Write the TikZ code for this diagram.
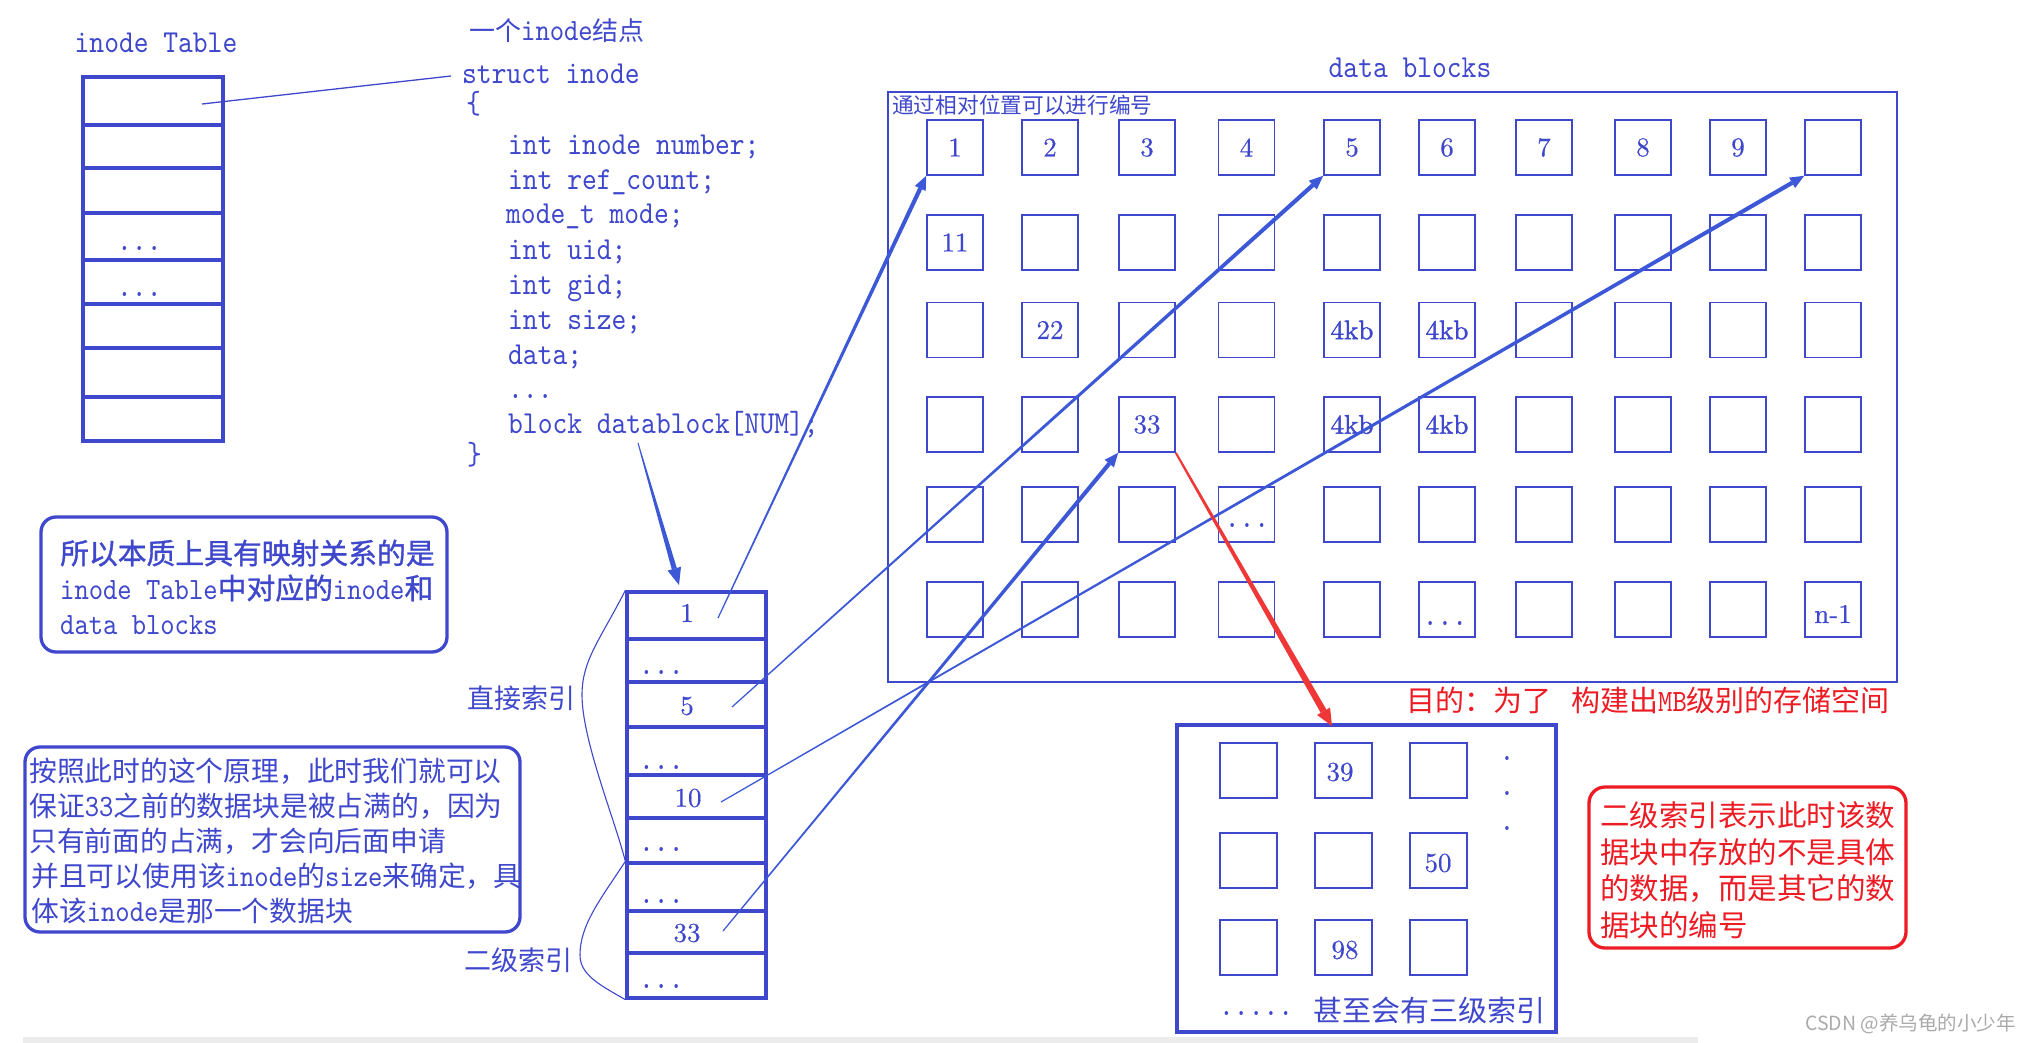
\documentclass[tikz,border=0pt]{standalone}
\usepackage{fontspec}
\usetikzlibrary{calc}
\newfontfamily\cjk{Noto Sans CJK SC}
\newfontfamily\cjkbold{Noto Sans CJK SC}[FakeBold=1.2]
\newfontfamily\codefont{lmmono10-regular.otf}[FakeStretch=0.88]
\newfontfamily\numfont{lmroman10-regular.otf}[FakeBold=0.5]
\newfontfamily\numbold{lmroman10-regular.otf}[FakeBold=1.6]
\definecolor{ink}{RGB}{63,72,204}
\definecolor{arrowblue}{RGB}{60,88,215}
\definecolor{redink}{RGB}{237,28,36}
\definecolor{redarrow}{RGB}{240,55,55}
\definecolor{wmgray}{RGB}{170,170,170}
\newcommand\lat[1]{{\codefont\fontsize{31}{36}\selectfont #1}}
% tapered arrow: from, to, start half width, end half width, head length, head half width, colour
\newcommand\tarrow[7]{%
  \path ($(#2)!#5!(#1)$) coordinate (tmpb);
  \fill[#7] ($(#1)!#3!90:(#2)$) -- ($(tmpb)!#4!-90:(#1)$) -- ($(tmpb)!#4!90:(#1)$) -- ($(#1)!#3!-90:(#2)$) -- cycle;
  \fill[#7] (#2) -- ($(tmpb)!#6!90:(#2)$) -- ($(tmpb)!#6!-90:(#2)$) -- cycle;
}
\tikzset{
  code/.style={font={\codefont\fontsize{32}{36}\selectfont}, text=ink, inner sep=0pt},
  num/.style={font={\numfont\fontsize{27}{30}\selectfont}, text=ink, inner sep=0pt},
  kb/.style={font={\numbold\fontsize{27}{30}\selectfont}, text=ink, inner sep=0pt},
  cjkt/.style={font={\cjk\fontsize{#1}{#1}\selectfont}, text=ink, inner sep=0pt, anchor=base west},
  cjkb/.style={font={\cjkbold\fontsize{#1}{#1}\selectfont}, text=ink, inner sep=0pt, anchor=base west},
  thickbox/.style={draw=ink, line width=3.3pt, inner sep=0pt},
  cell/.style={draw=ink, line width=1.6pt, minimum width=56pt, minimum height=55pt, inner sep=0pt},
  tbox/.style={draw=ink, line width=3.3pt, rounded corners=15pt, inner sep=0pt},
  thinline/.style={draw=ink, line width=1.1pt},
}
\begin{document}
\begin{tikzpicture}[x=1pt,y=-1pt]
\fill[white] (0,0) rectangle (2032,1043);
\useasboundingbox (0,0) rectangle (2032,1043);

% ---------- inode table ----------
\node[code, anchor=base] (ttitle) at (156,53) {inode Table};
\foreach \n/\yc/\h in {1/101/48,2/146.5/43,3/190.5/45,4/236.5/47,5/282/44,6/326/44,7/372.5/49,8/419/44}
  \node[thickbox, minimum width=140pt, minimum height=\h pt] (it\n) at (153,\yc) {};
\node[code, anchor=base west] (itd1) at (117,251) {...};
\node[code, anchor=base west] (itd2) at (117,296) {...};

% ---------- struct ----------
\node[cjkt=26] (stitle) at (469,41) {一个\lat{inode}结点};
\node[code, anchor=base west] (stt) at (462,84) {struct inode};
\node[code, anchor=base west] (s1) at (466,114) {\{};
\node[code, anchor=base west] (s2) at (508,155) {int inode number;};
\node[code, anchor=base west] (s3) at (508,190) {int ref\_count;};
\node[code, anchor=base west] (s4) at (506,224) {mode\_t mode;};
\node[code, anchor=base west] (s5) at (508,259) {int uid;};
\node[code, anchor=base west] (s6) at (508,294) {int gid;};
\node[code, anchor=base west] (s7) at (508,329) {int size;};
\node[code, anchor=base west] (s8) at (508,364) {data;};
\node[code, anchor=base west] (s9) at (508,398) {...};
\node[code, anchor=base west] (s10) at (508,433) {block datablock[NUM];};
\node[code, anchor=base west] (s11) at (467,464) {\}};
\coordinate (tl1) at (202,104);
\coordinate (sttend) at (451,76);
\draw[thinline, line width=1.3pt] (tl1) -- (sttend);

% ---------- data blocks ----------
\node[code, anchor=base] (dbtitle) at (1410,78) {data blocks};
\node[draw=ink, line width=1.5pt, minimum width=1009pt, minimum height=590pt, inner sep=0pt] (frame) at (1392.5,387) {};
\node[cjkt=21.7] (frlabel) at (892,114) {通过相对位置可以进行编号};
\foreach \r/\y in {1/147.5,2/242.5,3/330,4/424.5,5/514.5,6/609.5}
  \foreach \c/\x in {1/955,2/1050,3/1147,4/1246.5,5/1352,6/1447,7/1544,8/1643,9/1738,10/1833}
    \node[cell] (b-\r-\c) at (\x,\y) {};
\foreach \c/\t in {1/1,2/2,3/3,4/4,5/5,6/6,7/7,8/8,9/9}
  \node[num] (bl-\c) at (b-1-\c) {\t};
\node[num] (bl11) at (b-2-1) {11};
\node[num] (bl22) at (b-3-2) {22};
\node[num] (bl33) at (b-4-3) {33};
\node[kb] (bk1) at (b-3-5) {4kb};
\node[kb] (bk2) at (b-3-6) {4kb};
\node[kb] (bk3) at (b-4-5) {4kb};
\node[kb] (bk4) at (b-4-6) {4kb};
\node[code, anchor=base] (bd1) at (1247,527) {...};
\node[code, anchor=base] (bd2) at (1445,625) {...};
\node[num] (bn1) at (1833,614) {n-1};

% ---------- index table ----------
\foreach \n/\yc/\h in {1/615.5/47,2/660.5/43,3/704.5/45,4/751/48,5/796.5/43,6/840.5/45,7/887/48,8/932/42,9/975.5/45}
  \node[thickbox, minimum width=139pt, minimum height=\h pt] (ix\n) at (696.5,\yc) {};
\node[num] (il1) at (687,613) {1};
\node[num] (il5) at (687,706) {5};
\node[num] (il10) at (688,798) {10};
\node[num] (il33) at (687,933) {33};
\foreach \n/\yb in {2/674,4/769,6/851,7/903,9/988}
  \node[code, anchor=base west] (id\n) at (639,\yb) {...};
\draw[thinline] (ix1.north west) .. controls (600,640) and (582,660) .. (582,695) .. controls (582,740) and (615,820) .. (ix7.north west);
\draw[thinline] (ix7.north west) .. controls (600,900) and (580,925) .. (580,955) .. controls (580,975) and (600,985) .. (ix9.south west);
\node[cjkt=27] (lab1) at (467,708) {直接索引};
\node[cjkt=27] (lab2) at (464,970) {二级索引};

% ---------- text boxes ----------
\node[tbox, minimum width=406pt, minimum height=135pt] (box1) at (244,584.5) {};
\node[cjkb=28.8] (t1a) at (60,564) {所以本质上具有映射关系的是};
\node[cjkb=28.8] (t1b) at (60,599) {\lat{inode Table}中对应的\lat{inode}和};
\node[cjkb=28.8] (t1c) at (60,634) {\lat{data blocks}};

\node[tbox, minimum width=495pt, minimum height=185pt] (box2) at (272.5,839.5) {};
\node[cjkt=27.8] (t2a) at (29,781) {按照此时的这个原理，此时我们就可以};
\node[cjkt=27.8] (t2b) at (29,816) {保证\lat{33}之前的数据块是被占满的，因为};
\node[cjkt=27.8] (t2c) at (29,851) {只有前面的占满，才会向后面申请};
\node[cjkt=27.8] (t2d) at (31,886) {并且可以使用该\lat{inode}的\lat{size}来确定，具};
\node[cjkt=27.8] (t2e) at (31,921) {体该\lat{inode}是那一个数据块};

% ---------- second level block ----------
\node[cjkt=29, text=redink] (goal) at (1406,711) {目的：为了\hspace{20pt}构建出\lat{MB}级别的存储空间};
\node[thickbox, minimum width=379pt, minimum height=307pt] (l2) at (1366.5,878.5) {};
\foreach \r/\y in {1/770.5,2/860.5,3/947.5}
  \foreach \c/\x in {1/1248.5,2/1343.5,3/1438.5}
    \node[cell, minimum width=57pt] (s-\r-\c) at (\x,\y) {};
\node[num] (l39) at (1340,772) {39};
\node[num] (l50) at (1438,863) {50};
\node[num] (l98) at (1345,950) {98};
\node[code, anchor=base] (vd1) at (1507,760) {.};
\node[code, anchor=base] (vd2) at (1507,795) {.};
\node[code, anchor=base] (vd3) at (1507,830) {.};
\node[code, anchor=base west] (l2dots) at (1219,1015) {.....};
\node[cjkt=29] (l2text) at (1313,1021) {甚至会有三级索引};

\node[draw=redink, line width=3.3pt, rounded corners=16pt, minimum width=317pt, minimum height=161pt, inner sep=0pt] (rbox) at (1747.5,867.5) {};
\node[cjkt=29.5, text=redink] (r1) at (1600,826) {二级索引表示此时该数};
\node[cjkt=29.5, text=redink] (r2) at (1600,863) {据块中存放的不是具体};
\node[cjkt=29.5, text=redink] (r3) at (1600,899) {的数据，而是其它的数};
\node[cjkt=29.5, text=redink] (r4) at (1600,936) {据块的编号};

% ---------- arrows ----------
\coordinate (p1) at (718,618);
\coordinate (p5) at (732,707);
\coordinate (p10) at (721,802);
\coordinate (p33) at (723,931);
\coordinate (sdb) at (638,443);
\coordinate (ixin) at (679,585);
\coordinate (l2in) at (1332,726);
\tarrow{sdb}{ixin}{0.5pt}{2.6pt}{17pt}{7pt}{arrowblue}
\tarrow{p1}{b-1-1.south west}{0.6pt}{2.1pt}{14pt}{6pt}{arrowblue}
\tarrow{p5}{b-1-5.south west}{0.6pt}{2.1pt}{14pt}{6pt}{arrowblue}
\tarrow{p10}{b-1-10.south west}{0.6pt}{2.1pt}{14pt}{6pt}{arrowblue}
\tarrow{p33}{b-4-3.south west}{0.6pt}{2.1pt}{14pt}{6pt}{arrowblue}
\tarrow{b-4-3.south east}{l2in}{1pt}{3.3pt}{17pt}{7.5pt}{redarrow}

% ---------- footer ----------
\fill[gray!15] (23,1037) rectangle (1698,1043);
\node[font={\cjk\fontsize{19.5}{20}\selectfont}, text=wmgray, inner sep=0pt, anchor=base west] (wm) at (1805,1030) {CSDN @养乌龟的小少年};
\end{tikzpicture}
\end{document}
